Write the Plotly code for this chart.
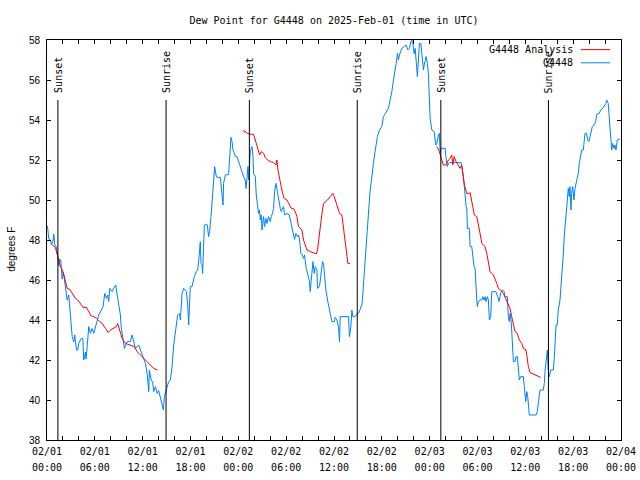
import plotly.graph_objects as go
from datetime import datetime, timedelta

START = datetime(2025, 2, 1)

# ---- data (hours since 2025-02-01 00:00 UTC, degrees F) ----
obs_hours = [0.06,0.23,0.44,0.56,0.78,0.85,0.98,1.13,1.28,1.48,1.59,1.73,1.90,2.03,2.16,2.32,2.53,2.73,2.94,3.16,3.36,3.48,3.70,3.86,3.98,4.29,4.49,4.61,4.82,4.91,5.04,5.24,5.45,5.66,5.86,6.08,6.29,6.49,6.83,7.04,7.24,7.46,7.62,7.74,7.87,8.17,8.37,8.62,8.80,9.00,9.21,9.30,9.42,9.62,9.71,10.05,10.46,10.68,10.88,11.09,11.50,11.93,12.13,12.34,12.56,12.76,12.84,13.06,13.26,13.38,13.60,13.81,14.01,14.31,14.51,14.60,14.72,14.97,15.26,15.48,15.69,15.89,16.10,16.23,16.39,16.64,16.73,16.94,17.14,17.48,17.64,17.77,17.98,18.19,18.32,18.48,18.73,18.90,19.02,19.23,19.32,19.45,19.52,19.65,19.74,19.99,20.11,20.27,20.40,20.57,20.70,20.90,21.03,21.20,21.33,21.74,21.95,22.08,22.15,22.37,22.78,22.91,23.08,23.21,23.33,23.50,23.62,23.83,24.03,24.25,24.46,24.66,24.87,24.96,25.09,25.21,25.29,25.37,25.50,25.71,25.84,25.91,26.13,26.25,26.41,26.54,26.66,26.75,26.88,26.97,27.17,27.29,27.47,27.59,27.79,28.01,28.13,28.29,28.42,28.54,28.72,28.84,28.97,29.13,29.26,29.38,29.67,29.80,30.10,30.39,30.51,30.72,30.92,31.05,31.22,31.42,31.55,31.68,31.85,32.01,32.18,32.30,32.52,32.68,32.89,33.02,33.23,33.36,33.52,33.64,33.86,33.93,34.18,34.36,34.56,34.69,34.81,34.98,35.19,35.44,35.74,36.02,36.15,36.36,36.56,36.69,36.78,37.28,37.82,37.94,38.12,38.24,38.37,38.66,38.94,39.07,39.28,39.50,39.62,39.70,39.82,39.91,40.04,40.12,40.25,40.41,40.54,40.75,40.95,41.08,41.29,41.45,41.70,42.00,42.20,42.42,42.63,42.83,43.04,43.26,43.46,43.67,43.80,43.96,44.08,44.21,44.39,44.51,44.80,45.05,45.26,45.46,45.64,45.76,45.89,46.05,46.18,46.30,46.46,46.59,46.72,46.89,47.02,47.14,47.22,47.31,47.43,47.56,47.72,47.84,47.97,48.06,48.27,48.56,48.77,48.90,49.10,49.22,49.31,49.44,49.65,49.94,50.06,50.22,50.35,50.56,51.94,52.03,52.23,52.35,52.44,52.57,52.66,52.73,52.98,53.07,53.28,53.36,53.48,53.57,53.70,53.78,53.91,53.99,54.11,54.32,54.54,54.66,54.82,54.95,55.07,55.24,55.36,55.49,55.66,55.79,56.29,56.54,56.70,56.83,56.95,57.17,57.33,57.46,57.74,57.87,57.99,58.08,58.21,58.29,58.42,58.50,58.71,58.83,59.00,59.12,59.25,59.42,59.75,59.87,60.05,60.18,60.30,60.50,61.34,61.50,61.63,61.84,62.25,62.38,62.47,62.59,62.76,62.88,63.01,63.18,63.51,63.63,63.72,63.85,64.01,64.13,64.35,64.56,64.69,64.76,64.89,65.06,65.19,65.31,65.39,65.51,65.60,65.73,65.81,65.94,66.10,66.23,66.35,66.52,66.64,66.77,66.94,67.07,67.27,67.39,67.48,67.69,67.82,67.98,68.11,68.23,68.40,68.61,68.82,68.95,69.07,69.27,69.45,69.70,69.86,70.11,70.20,70.40,70.49,70.61,70.70,70.83,70.95,71.12,71.24,71.37,71.53,71.87]
obs_dewpt = [48.7,48.05,48.0,47.75,48.0,48.3,47.75,47.7,47.35,46.7,47.05,47.0,46.05,46.4,46.1,45.67,45.0,45.25,44.1,43.17,42.9,43.25,42.5,42.5,42.83,43.08,43.08,42.0,42.4,42.05,42.67,43.67,43.33,43.58,43.33,43.67,43.92,44.25,44.5,44.67,45.33,45.08,45.25,44.92,45.58,45.42,45.58,45.75,45.25,44.83,44.25,43.67,43.33,42.83,42.58,42.92,42.92,43.25,42.92,42.58,42.75,42.25,42.08,41.83,41.33,40.42,41.5,41.0,40.9,40.42,40.67,40.33,40.47,40.0,39.67,39.5,40.17,40.58,40.92,41.0,41.67,42.75,43.33,43.83,44.25,44.33,44.0,45.33,45.58,45.42,44.8,43.75,45.67,45.67,46.0,46.17,46.42,46.5,46.92,47.92,46.83,46.75,46.33,47.67,48.75,48.8,48.75,48.17,48.42,49.17,50.0,51.33,51.67,51.25,51.13,51.13,50.33,49.75,50.83,51.25,51.28,52.33,53.13,52.92,52.5,52.33,52.17,52.17,51.92,51.75,51.5,51.17,51.0,50.58,51.08,51.67,51.0,51.83,52.42,52.67,52.17,51.33,51.17,50.25,49.58,49.33,49.5,49.0,49.25,48.5,49.17,48.67,49.08,48.83,49.17,48.92,49.17,49.33,49.58,50.42,50.83,50.5,50.25,49.83,49.58,49.42,49.67,49.25,49.33,49.25,49.0,48.67,48.17,48.03,48.33,48.17,48.25,48.0,47.33,47.25,47.08,47.25,46.58,46.33,46.0,45.42,46.5,46.92,46.33,46.67,46.5,45.58,45.67,46.42,46.92,46.83,46.17,45.5,45.0,44.58,43.92,43.92,44.13,44.0,43.67,42.92,44.17,44.17,44.17,43.17,43.67,44.5,44.17,44.17,44.33,44.33,44.5,44.75,45.33,45.83,46.5,47.17,47.83,48.5,49.17,49.83,50.5,51.33,51.83,52.25,52.75,53.17,53.5,53.67,54.17,54.33,54.42,54.58,55.0,55.42,56.0,56.42,56.83,57.33,57.0,57.25,57.42,57.58,57.67,57.75,57.5,57.58,57.92,58.0,57.83,57.33,57.58,56.83,56.17,57.0,57.83,57.83,57.17,56.83,56.5,56.75,57.0,57.17,56.83,56.33,55.0,54.08,53.5,53.42,52.75,52.83,53.25,53.33,52.33,52.6,52.58,52.58,52.08,51.67,51.83,51.87,51.87,51.67,51.17,50.67,50.17,49.67,49.6,48.58,48.58,47.67,47.67,47.42,47.17,46.67,46.58,45.58,45.0,44.67,44.92,45.0,45.0,45.17,45.0,45.17,44.92,45.17,45.0,44.0,44.17,45.42,45.42,45.17,44.92,45.17,45.42,45.5,45.42,45.17,45.17,44.17,43.92,44.33,44.0,43.5,42.67,41.92,41.92,42.17,42.17,41.67,41.0,41.17,41.17,40.67,39.92,40.42,40.17,39.25,39.25,39.42,39.92,40.5,40.5,40.83,41.42,41.83,42.5,41.5,41.17,41.5,41.5,42.08,43.17,43.75,43.75,44.5,45.0,46.0,46.5,47.25,48.25,49.08,49.58,50.25,50.58,50.17,50.67,49.5,50.33,50.67,50.0,50.58,50.83,51.08,51.33,51.83,52.17,52.5,52.5,52.83,53.33,53.33,53.0,52.92,53.17,53.42,53.67,53.75,53.92,54.25,54.33,54.33,54.5,54.58,54.67,54.83,55.0,54.83,54.33,53.67,52.83,52.5,52.83,52.58,52.75,52.5,53.0,53.05]

ana_hours = [0.65,0.85,1.07,1.28,1.48,1.69,2.03,2.32,2.53,2.86,3.16,3.57,3.86,4.20,4.54,4.95,5.24,5.54,5.86,6.20,6.62,6.92,7.33,7.67,7.96,8.37,8.71,8.87,9.05,9.21,9.42,9.84,10.46,10.96,11.30,11.72,12.13,12.56,12.97,13.38,13.88,
             None,
             24.66,24.79,24.87,25.12,25.41,25.91,26.13,26.34,26.67,26.88,27.17,27.38,27.67,28.01,28.42,28.72,28.84,28.97,29.17,29.38,29.55,29.76,30.10,30.30,30.64,30.93,31.14,31.35,31.55,31.98,32.18,32.39,32.61,33.02,33.43,33.77,33.93,34.06,34.27,34.49,34.69,35.11,35.53,35.86,36.03,36.37,36.69,36.99,37.19,37.41,37.62,37.74,38.03,
             None,
             48.90,49.22,49.52,49.72,50.06,50.35,50.56,50.78,50.90,51.07,51.32,51.60,51.82,52.03,52.23,52.35,52.66,52.98,53.07,53.28,53.41,53.61,53.91,54.11,54.32,54.54,54.95,55.16,55.36,55.58,55.99,56.20,56.42,56.62,56.92,57.24,57.58,57.87,58.08,58.29,58.50,58.71,59.00,59.25,59.55,59.75,60.09,60.25,60.38,60.59,61.00,61.43,61.93]
ana_dewpt = [47.75,47.7,47.6,47.25,46.92,46.67,46.4,45.92,45.58,45.53,45.33,45.08,45.0,44.83,44.63,44.63,44.42,44.2,44.17,44.08,43.92,43.83,43.58,43.38,43.5,43.58,43.67,43.83,43.58,43.33,43.08,42.83,42.75,42.67,42.42,42.25,42.08,41.87,41.75,41.58,41.5,
             None,
             53.5,53.38,53.42,53.33,53.3,53.28,53.0,52.75,52.25,52.42,52.33,52.13,52.0,51.92,51.87,51.75,52.0,51.5,51.17,50.67,50.33,50.08,50.0,49.83,49.58,49.58,49.42,49.17,48.67,48.5,48.0,47.75,47.5,47.42,47.37,47.3,47.5,48.0,48.67,49.33,49.83,49.97,50.17,50.33,50.17,49.75,49.33,49.25,48.67,48.0,47.33,46.83,46.83,
             None,
             52.67,52.42,52.0,51.75,51.75,52.0,52.08,52.25,51.75,52.17,51.92,51.75,51.58,51.75,51.17,50.75,50.33,50.33,50.37,50.0,49.67,49.25,49.17,48.83,48.33,47.83,47.67,47.33,46.83,46.42,46.25,46.08,45.83,45.58,45.5,45.33,45.0,44.75,44.58,44.17,43.83,43.42,43.33,43.0,42.83,42.58,42.5,42.08,41.67,41.37,41.3,41.2,41.13]

sunset_times = ["2025-02-01 01:22", "2025-02-02 01:23", "2025-02-03 01:24"]
sunrise_times = ["2025-02-01 14:56", "2025-02-02 14:55", "2025-02-03 14:54"]

tick_vals = ["2025-02-01 00:00", "2025-02-01 06:00", "2025-02-01 12:00", "2025-02-01 18:00",
             "2025-02-02 00:00", "2025-02-02 06:00", "2025-02-02 12:00", "2025-02-02 18:00",
             "2025-02-03 00:00", "2025-02-03 06:00", "2025-02-03 12:00", "2025-02-03 18:00",
             "2025-02-04 00:00"]
tick_dates = ["02/01", "02/01", "02/01", "02/01", "02/02", "02/02", "02/02", "02/02",
              "02/03", "02/03", "02/03", "02/03", "02/04"]
tick_clock = ["00:00", "06:00", "12:00", "18:00", "00:00", "06:00", "12:00", "18:00",
              "00:00", "06:00", "12:00", "18:00", "00:00"]

STATION = "G4448"
TITLE = "Dew Point for G4448 on 2025-Feb-01 (time in UTC)"
RED = "#ff0000"
BLUE = "#0080ff"
MONO = "DejaVu Sans Mono"
SANS = "Liberation Sans"


def to_time(hours):
    return [START + timedelta(hours=h) if h is not None else None for h in hours]


fig = go.Figure()
fig.add_trace(go.Scatter(x=to_time(obs_hours), y=obs_dewpt, mode="lines",
                         line=dict(color=BLUE, width=1), name=STATION,
                         connectgaps=False, xaxis="x", yaxis="y"))
fig.add_trace(go.Scatter(x=to_time(ana_hours), y=ana_dewpt, mode="lines",
                         line=dict(color=RED, width=1), name=STATION + " Analysis",
                         connectgaps=False, xaxis="x2", yaxis="y"))

shapes = []
annotations = []
for times, label in ((sunset_times, "Sunset"), (sunrise_times, "Sunrise")):
    for t in times:
        shapes.append(dict(type="line", xref="x", yref="y", x0=t, x1=t, y0=38, y1=55.0,
                           line=dict(color="black", width=1)))
        annotations.append(dict(x=t, y=55.25, xref="x", yref="y", text=label,
                                textangle=-90, showarrow=False, xanchor="center",
                                yanchor="bottom", font=dict(family=MONO, size=10, color="black")))

# legend (key text left of the line sample, as in the reference)
for text, color, ypos in ((STATION + " Analysis", RED, 0.976), (STATION, BLUE, 0.943)):
    annotations.append(dict(x=0.920, y=ypos, xref="paper", yref="paper", text=text,
                            showarrow=False, xanchor="right", yanchor="middle",
                            font=dict(family=MONO, size=10, color="black")))
    shapes.append(dict(type="line", xref="paper", yref="paper", x0=0.930, x1=0.981,
                       y0=ypos, y1=ypos, line=dict(color=color, width=1)))

annotations.append(dict(x=-0.061, y=0.478, xref="paper", yref="paper", text="degrees F",
                        textangle=-90, showarrow=False, xanchor="center", yanchor="middle",
                        font=dict(family=SANS, size=10, color="black")))

xr = ["2025-02-01 00:00", "2025-02-04 00:00"]
fig.update_layout(
    width=640, height=480,
    margin=dict(l=47, r=19, t=40, b=40),
    paper_bgcolor="white", plot_bgcolor="white",
    showlegend=False,
    title=dict(text=TITLE, x=0.5, xref="paper", xanchor="center",
               y=1 - 20 / 480, yanchor="middle",
               font=dict(family=MONO, size=10, color="black")),
    xaxis=dict(type="date", range=xr, showgrid=False, zeroline=False,
               showline=True, linecolor="black", linewidth=1, mirror="ticks",
               ticks="inside", ticklen=4, tickcolor="black", tickwidth=1,
               tickmode="array", tickvals=tick_vals, ticktext=tick_dates,
               tickfont=dict(family=MONO, size=10, color="black"),
               ticklabelstandoff=2,
               minor=dict(ticks="inside", ticklen=4, tickcolor="black", tickwidth=1,
                          dtick=2 * 3600 * 1000, tick0="2025-02-01 00:00", showgrid=False),
               automargin=False),
    xaxis2=dict(type="date", range=xr, overlaying="x", matches="x", side="bottom",
                anchor="y", showgrid=False, zeroline=False, showline=False, ticks="",
                tickmode="array", tickvals=tick_vals, ticktext=tick_clock,
                tickfont=dict(family=MONO, size=10, color="black"),
                ticklabelstandoff=20, automargin=False),
    yaxis=dict(range=[38, 58], tickmode="linear", tick0=38, dtick=2,
               showgrid=False, zeroline=False,
               showline=True, linecolor="black", linewidth=1, mirror="ticks",
               ticks="inside", ticklen=4, tickcolor="black", tickwidth=1,
               tickfont=dict(family=SANS, size=10, color="black"),
               ticklabelstandoff=4, automargin=False),
    shapes=shapes,
    annotations=annotations,
)

fig.write_html("out.html", config={"displayModeBar": False},
               post_script="document.body.style.margin='0';")
